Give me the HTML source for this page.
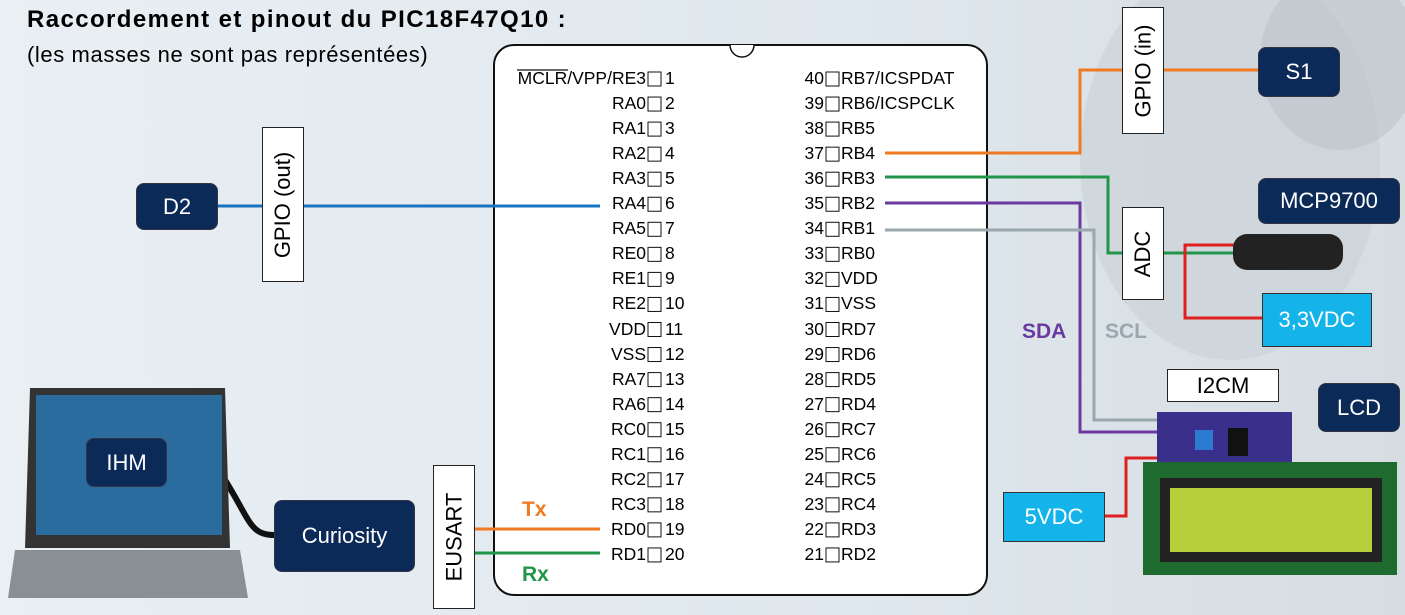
<!DOCTYPE html>
<html><head><meta charset="utf-8"><style>
body{margin:0;width:1405px;height:615px;overflow:hidden;font-family:"Liberation Sans",sans-serif;background:linear-gradient(90deg,#e9eff3 0%,#dfe8ee 60%,#d6dde2 100%);position:relative}
.t{position:absolute;white-space:nowrap}
.nb{position:absolute;background:#0c2a57;color:#fff;border-radius:8px;display:flex;align-items:center;justify-content:center;font-size:22px;border:1px solid #334}
.cb{position:absolute;background:#14b3ea;color:#fff;display:flex;align-items:center;justify-content:center;font-size:22px;border:1px solid #333}
.wb{position:absolute;background:#fff;border:1.5px solid #222;display:flex;align-items:center;justify-content:center;font-size:22px}
.rot span{transform:rotate(-90deg);display:block;white-space:nowrap}
</style></head><body>
<svg width="1405" height="615" style="position:absolute;left:0;top:0">
 <ellipse cx="1230" cy="160" rx="150" ry="200" fill="#c9d0d5" opacity="0.6"/>
 <ellipse cx="1340" cy="60" rx="80" ry="90" fill="#b8c0c6" opacity="0.5"/>
 <rect x="494" y="45" width="493" height="550" rx="20" fill="#fff" stroke="#111" stroke-width="2"/>
 <path d="M730 45 A12 12 0 0 0 754 45" fill="#fff" stroke="#111" stroke-width="1.5"/>
 <line x1="517" y1="70" x2="568" y2="70" stroke="#111" stroke-width="1.2"/>
 <g id="pins"></g>
 <polyline points="216,206 600,206" stroke="#1a73c0" stroke-width="3" fill="none"/>
 <polyline points="885,153 1080,153 1080,70 1258,70" stroke="#f07a22" stroke-width="3" fill="none"/>
 <polyline points="885,177 1108,177 1108,253 1235,253" stroke="#21964a" stroke-width="3" fill="none"/>
 <polyline points="885,203 1080,203 1080,432 1160,432" stroke="#6a3aa0" stroke-width="3" fill="none"/>
 <polyline points="885,230 1094,230 1094,420 1160,420" stroke="#9aa8ad" stroke-width="3" fill="none"/>
 <polyline points="1235,245 1185,245 1185,318 1262,318" stroke="#e02020" stroke-width="3" fill="none"/>
 <polyline points="1103,516 1126,516 1126,458 1160,458" stroke="#e02020" stroke-width="3" fill="none"/>
 <polyline points="474,529 600,529" stroke="#f07a22" stroke-width="3"/>
 <polyline points="474,553 600,553" stroke="#21964a" stroke-width="3"/>
 <path d="M225 480 C250 520 250 535 274 535" stroke="#111" stroke-width="6" fill="none"/>
 <rect x="1233" y="234" width="110" height="36" rx="14" fill="#222"/>
 <rect x="1157" y="412" width="135" height="56" fill="#3a2f8a"/>
 <rect x="1195" y="430" width="18" height="20" fill="#2a7ad0"/><rect x="1228" y="428" width="20" height="28" fill="#111"/>
 <rect x="1143" y="462" width="254" height="113" fill="#1f6a2e"/>
 <rect x="1160" y="478" width="222" height="84" fill="#222"/><rect x="1170" y="488" width="202" height="64" fill="#b7cf3a"/>
 <path d="M30 388 L225 388 L230 548 L25 548 Z" fill="#333"/>
 <rect x="36" y="395" width="186" height="140" fill="#2a6c9e"/>
 <path d="M15 550 L240 550 L248 598 L8 598 Z" fill="#8a8f94"/>
</svg>
<div class="t" style="left:27px;top:6px;font-size:24px;letter-spacing:1.4px;font-weight:bold">Raccordement et pinout du PIC18F47Q10 :</div>
<div class="t" style="left:27px;top:42px;font-size:22px;letter-spacing:0.6px">(les masses ne sont pas représentées)</div>
<div id="lbl"></div>
<div class="nb" style="left:136px;top:183px;width:80px;height:45px">D2</div>
<div class="wb rot" style="left:262px;top:127px;width:40px;height:153px"><span>GPIO (out)</span></div>
<div class="wb rot" style="left:1122px;top:7px;width:40px;height:125px"><span>GPIO (in)</span></div>
<div class="nb" style="left:1258px;top:47px;width:80px;height:48px">S1</div>
<div class="wb rot" style="left:1122px;top:207px;width:40px;height:91px"><span>ADC</span></div>
<div class="nb" style="left:1258px;top:178px;width:140px;height:44px">MCP9700</div>
<div class="cb" style="left:1262px;top:293px;width:108px;height:52px">3,3VDC</div>
<div class="t" style="left:1022px;top:320px;font-size:21px;font-weight:bold;color:#6a3aa0">SDA</div>
<div class="t" style="left:1105px;top:320px;font-size:21px;font-weight:bold;color:#9aa8ad">SCL</div>
<div class="wb" style="left:1167px;top:369px;width:110px;height:31px">I2CM</div>
<div class="nb" style="left:1318px;top:383px;width:80px;height:47px">LCD</div>
<div class="cb" style="left:1003px;top:492px;width:100px;height:48px">5VDC</div>
<div class="nb" style="left:86px;top:438px;width:79px;height:47px">IHM</div>
<div class="nb" style="left:274px;top:500px;width:139px;height:70px">Curiosity</div>
<div class="wb rot" style="left:433px;top:465px;width:40px;height:142px"><span>EUSART</span></div>
<div class="t" style="left:522px;top:498px;font-size:21px;font-weight:bold;color:#f07a22">Tx</div>
<div class="t" style="left:522px;top:563px;font-size:21px;font-weight:bold;color:#21964a">Rx</div>
<script>
const leftPins=["MCLR/VPP/RE3","RA0","RA1","RA2","RA3","RA4","RA5","RE0","RE1","RE2","VDD","VSS","RA7","RA6","RC0","RC1","RC2","RC3","RD0","RD1"];
const rightPins=["RB7/ICSPDAT","RB6/ICSPCLK","RB5","RB4","RB3","RB2","RB1","RB0","VDD","VSS","RD7","RD6","RD5","RD4","RC7","RC6","RC5","RC4","RD3","RD2"];
const g=document.getElementById('pins'),L=document.getElementById('lbl');
function add(h){L.insertAdjacentHTML('beforeend',h);}
for(let i=0;i<20;i++){
 const y=79+i*25.05;
 const r1=document.createElementNS('http://www.w3.org/2000/svg','rect');
 r1.setAttribute('x',648);r1.setAttribute('y',y-7);r1.setAttribute('width',13);r1.setAttribute('height',14);r1.setAttribute('fill','#fff');r1.setAttribute('stroke','#111');
 
 
 g.appendChild(r1);
 const r2=r1.cloneNode();r2.setAttribute('x',826);
 
 g.appendChild(r2);
 add(`<div class="t" style="right:${1405-646}px;top:${y-11}px;font-size:17.5px">${leftPins[i]}</div>`);
 add(`<div class="t" style="left:665px;top:${y-11}px;font-size:17.5px">${i+1}</div>`);
 add(`<div class="t" style="right:${1405-824}px;top:${y-11}px;font-size:17.5px">${40-i}</div>`);
 add(`<div class="t" style="left:841px;top:${y-11}px;font-size:17.5px">${rightPins[i]}</div>`);
}
</script>
</body></html>
